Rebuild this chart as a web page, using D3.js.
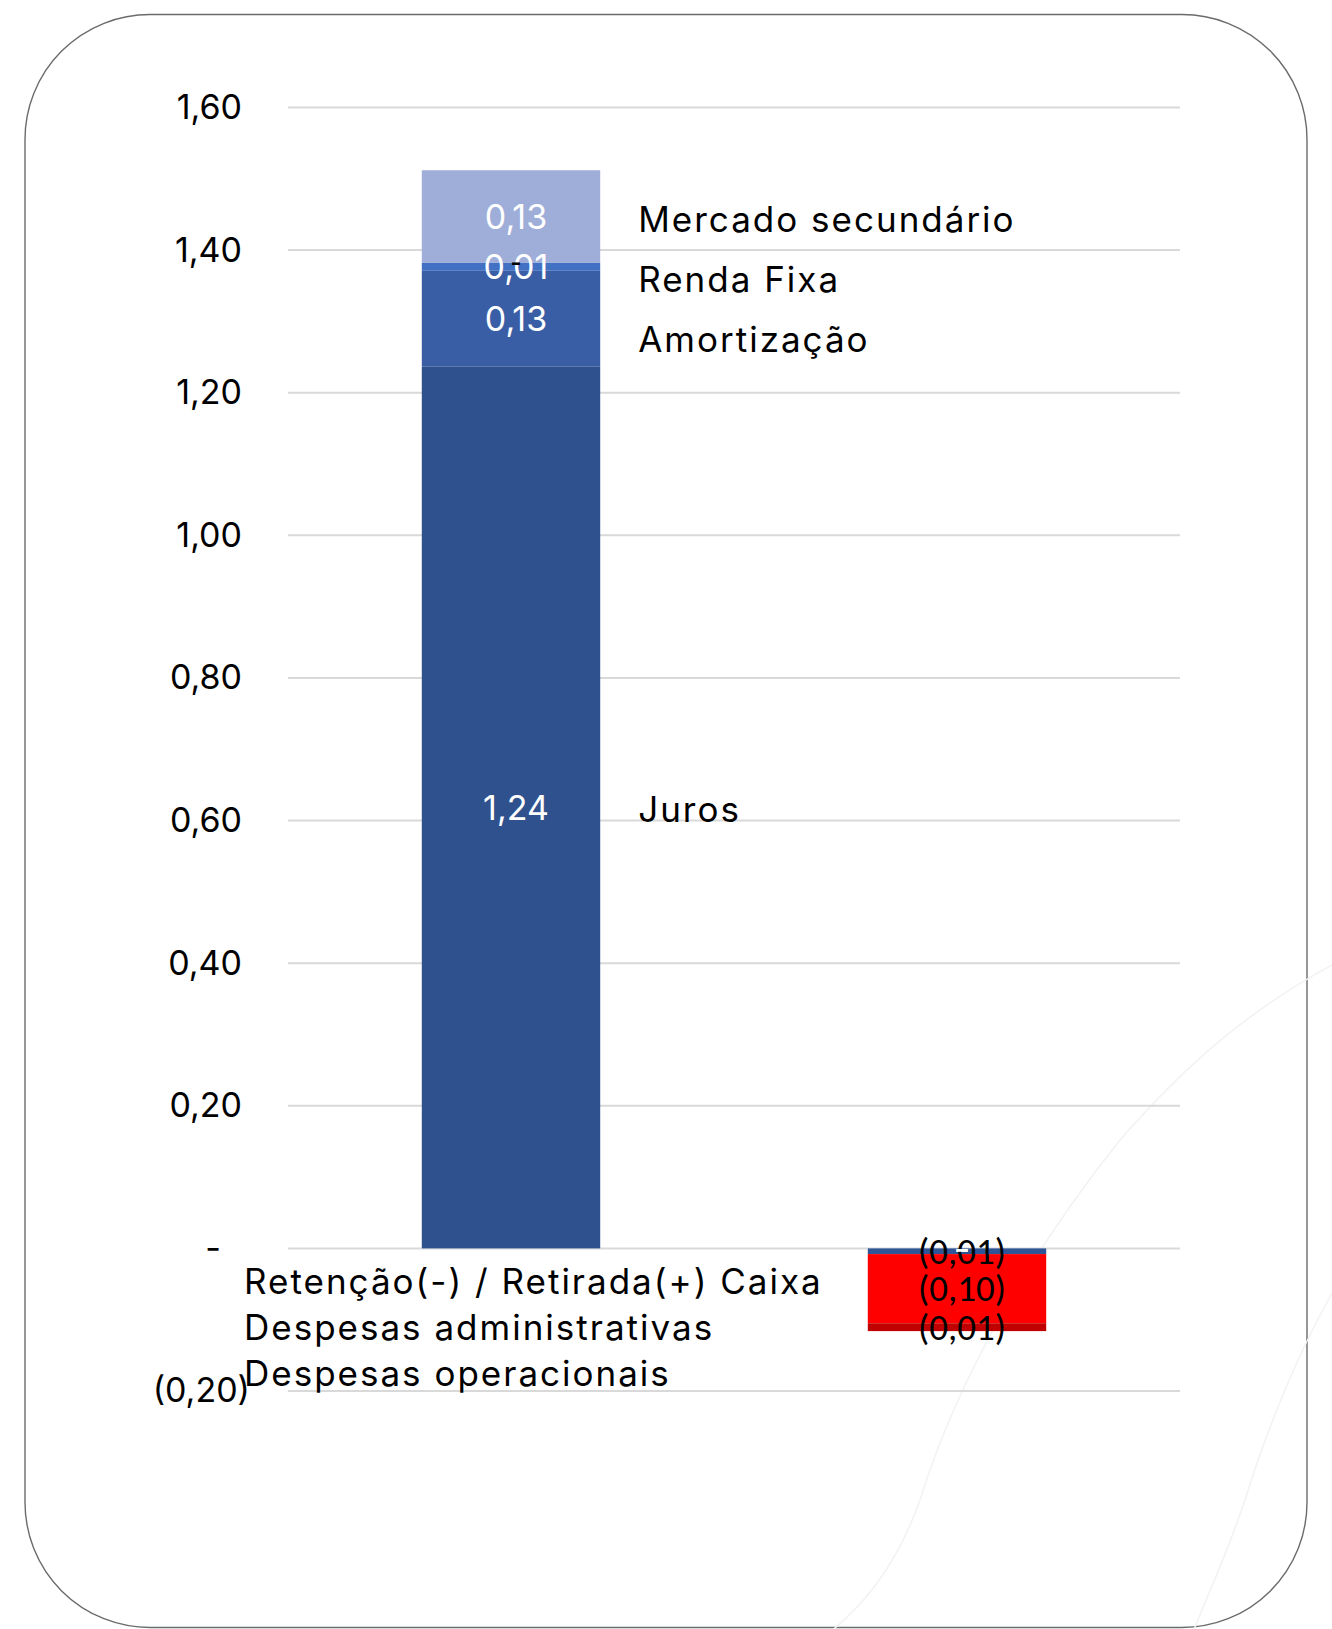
<!DOCTYPE html>
<html>
<head>
<meta charset="utf-8">
<script src="https://cdn.jsdelivr.net/npm/d3@7"></script>
<style>
  body { margin: 0; background: #ffffff; }
  svg { display: block; }
</style>
</head>
<body>
<svg id="chart" width="1332" height="1629"></svg>
<script>
// Cash-flow composition: inflows (left column) and outflows (right column)
const categories = ["Entradas", "Saídas"];

const seriesNames = [
  "Juros",
  "Amortização",
  "Renda Fixa",
  "Retenção(-) / Retirada(+) Caixa",
  "Mercado secundário",
  "Despesas administrativas",
  "Despesas operacionais"
];

// values per category (Entradas, Saídas)
const juros             = [1.237, 0];
const amortizacao       = [0.134, 0];
const rendaFixa         = [0.011, 0];
const retencaoCaixa     = [0, -0.008];
const mercadoSecundario = [0.130, 0];
const despesasAdm       = [0, -0.097];
const despesasOper      = [0, -0.011];

// flow direction of each series: "in", "out" or "both"
const seriesFlow = ["in", "in", "in", "both", "in", "out", "out"];

const yTickValues = [-0.2, 0, 0.2, 0.4, 0.6, 0.8, 1.0, 1.2, 1.4, 1.6];

const seriesColors = ["#2f528f", "#3a5ea6", "#4270c2", "#2f5597", "#9eaed8", "#ff0000", "#c00000"];
const labelColors  = ["#ffffff", "#ffffff", "#ffffff", "#000000", "#ffffff", "#000000", "#000000"];

const seriesValues = [juros, amortizacao, rendaFixa, retencaoCaixa, mercadoSecundario, despesasAdm, despesasOper];

const plot = { left: 288, right: 1180, top: 107.5, bottom: 1391 };
const sansFont = "Inter, 'Open Sans', 'DejaVu Sans', sans-serif";
const narrowFont = "Carlito, 'Liberation Sans Narrow', 'Liberation Sans', Arial, sans-serif";

const svg = d3.select("#chart");

// card frame
svg.append("rect")
  .attr("x", 25).attr("y", 14.5)
  .attr("width", 1282).attr("height", 1613)
  .attr("rx", 125).attr("ry", 125)
  .attr("fill", "#ffffff")
  .attr("stroke", "#6b6b6b")
  .attr("stroke-width", 1.4);

// faint decorative swooshes in the lower right corner
const deco = svg.append("g").attr("fill", "none").attr("stroke", "#f2f2f2").attr("stroke-width", 1.5);
deco.append("path").attr("d", "M1332,965 C1250,1010 1190,1060 1120,1140 C1040,1240 960,1370 920,1500 C895,1570 860,1610 820,1640");
deco.append("path").attr("d", "M1332,1293 C1300,1350 1270,1420 1245,1500 C1225,1560 1205,1600 1190,1640");

const x = d3.scaleBand()
  .domain(categories)
  .range([plot.left, plot.right])
  .paddingInner(0.6)
  .paddingOuter(0.3);

const y = d3.scaleLinear()
  .domain([-0.2, 1.6])
  .range([plot.bottom, plot.top]);

// gridlines
svg.append("g")
  .selectAll("line")
  .data(yTickValues)
  .join("line")
  .attr("x1", plot.left).attr("x2", plot.right)
  .attr("y1", d => y(d)).attr("y2", d => y(d))
  .attr("stroke", "#d9d9d9")
  .attr("stroke-width", 2);

// y axis labels in accounting style
const fmt2 = v => Math.abs(v).toFixed(2).replace(".", ",");
const tickText = v => Math.abs(v) < 1e-9 ? "-" : (v < 0 ? "(" + fmt2(v) + ")" : fmt2(v));
const yAxis = d3.axisLeft(y).tickValues(yTickValues).tickFormat(tickText).tickSize(0).tickPadding(0);
const axisG = svg.append("g")
  .attr("transform", `translate(${plot.left - 38},0)`)
  .call(yAxis);
axisG.select(".domain").remove();
axisG.selectAll("text")
  .attr("font-family", sansFont)
  .attr("font-size", 34)
  .attr("fill", "#000000")
  .attr("dx", d => Math.abs(d) < 1e-9 ? -29 : (d < 0 ? 0 : -8));

// stacking: positives go up, negatives go down, in series order
const stacked = seriesValues.map(() => []);
categories.forEach((c, j) => {
  let pos = 0, neg = 0;
  seriesValues.forEach((vals, i) => {
    const v = vals[j];
    let y0, y1;
    if (v > 0) { y0 = pos; y1 = pos += v; }
    else if (v < 0) { y1 = neg; y0 = neg += v; }
    else if (seriesFlow[i] === "out") { y0 = y1 = neg; }
    else { y0 = y1 = pos; }
    stacked[i].push({ cat: c, j, v, y0, y1, series: i });
  });
});

const barsG = svg.append("g");
stacked.forEach((segs, i) => {
  barsG.selectAll(null)
    .data(segs.filter(d => d.v !== 0))
    .join("rect")
    .attr("x", d => x(d.cat))
    .attr("width", x.bandwidth())
    .attr("y", d => y(Math.max(d.y0, d.y1)))
    .attr("height", d => Math.abs(y(d.y0) - y(d.y1)))
    .attr("fill", seriesColors[i]);
});

// value labels
const valueText = v => v === 0 ? "-" : (v < 0 ? "(" + fmt2(v) + ")" : fmt2(v));
const labelsG = svg.append("g");
stacked.forEach((segs, i) => {
  const shown = segs.filter(d => d.v !== 0 || seriesFlow[i] !== "out");
  labelsG.selectAll(null)
    .data(shown)
    .join("text")
    .attr("x", d => x(d.cat) + x.bandwidth() / 2 + 5)
    .attr("y", d => y((d.y0 + d.y1) / 2))
    .attr("text-anchor", "middle")
    .attr("dominant-baseline", "central")
    .attr("font-family", d => d.v < 0 || (d.v === 0 && labelColors[i] === "#000000") ? narrowFont : sansFont)
    .attr("font-size", d => d.v < 0 ? 37 : 34)
    .attr("fill", labelColors[i])
    .text(d => valueText(d.v));
});

// series name labels, nudged apart so they do not collide
function nameLabels(j, xPos, offset, gap) {
  const items = stacked
    .map((segs, i) => ({ i, seg: segs[j] }))
    .filter(o => o.seg.v !== 0)
    .map(o => ({ i: o.i, yy: y((o.seg.y0 + o.seg.y1) / 2) + offset }))
    .sort((a, b) => a.yy - b.yy);
  let prev = -Infinity;
  items.forEach(o => { o.yy = Math.max(o.yy, prev + gap); prev = o.yy; });
  svg.append("g")
    .selectAll("text")
    .data(items)
    .join("text")
    .attr("x", xPos)
    .attr("y", d => d.yy)
    .attr("dominant-baseline", "central")
    .attr("font-family", sansFont)
    .attr("font-size", 35)
    .attr("letter-spacing", 2)
    .attr("fill", "#000000")
    .text(d => seriesNames[d.i]);
}
nameLabels(0, x(categories[0]) + x.bandwidth() + 38, 2, 60);
nameLabels(1, plot.left - 44, 30, 46);
</script>
</body>
</html>
